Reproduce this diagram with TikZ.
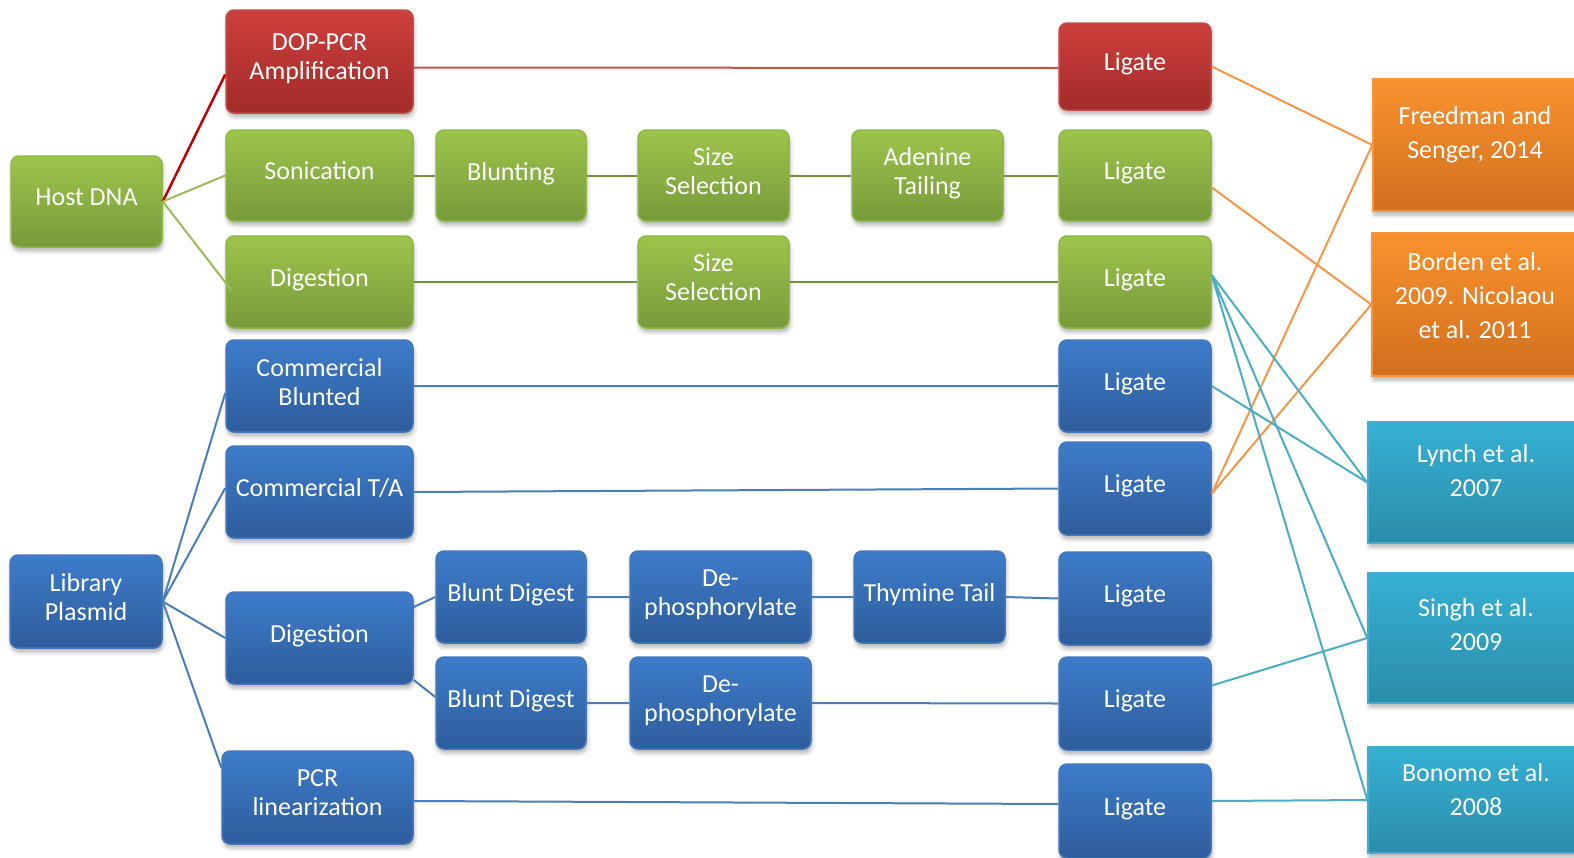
\documentclass[tikz,border=0pt]{standalone}
\usepackage{fontspec}
\setmainfont{Carlito}
\usetikzlibrary{shadows.blur}
\definecolor{rT}{HTML}{CD3F3C}\definecolor{rB}{HTML}{A12B29}\definecolor{rE}{HTML}{C24A47}
\definecolor{gT}{HTML}{9DC44B}\definecolor{gB}{HTML}{779A3B}\definecolor{gE}{HTML}{8DB846}
\definecolor{bT}{HTML}{3D7CCA}\definecolor{bB}{HTML}{2E5C9B}\definecolor{bE}{HTML}{4477BB}
\definecolor{oT}{HTML}{F8922E}\definecolor{oB}{HTML}{D26F1E}\definecolor{oE}{HTML}{F5953F}
\definecolor{tT}{HTML}{36B0D5}\definecolor{tB}{HTML}{2B8DA8}\definecolor{tE}{HTML}{45ADD0}
\definecolor{hostred}{HTML}{C00000}
\definecolor{redl}{HTML}{C9504D}
\definecolor{lgreen}{HTML}{9BBB59}
\definecolor{dgreen}{HTML}{71923A}
\definecolor{bluel}{HTML}{4A7EBB}
\definecolor{orangel}{HTML}{F79646}
\definecolor{teall}{HTML}{4BACC6}
\tikzset{
  base/.style={line width=1.5pt, text=white, align=center, inner sep=2pt,
    font=\fontsize{26}{29}\selectfont,
    execute at end node={\rule[-9pt]{0pt}{9pt}},
    blur shadow={shadow xshift=1pt, shadow yshift=-4pt, shadow blur radius=4pt, shadow opacity=30}},
  rbox/.style={base, rounded corners=8pt, top color=rT, bottom color=rB, draw=rE},
  gbox/.style={base, rounded corners=8pt, top color=gT, bottom color=gB, draw=gE},
  bbox/.style={base, rounded corners=8pt, top color=bT, bottom color=bB, draw=bE},
  obox/.style={base, top color=oT, bottom color=oB, draw=oE},
  tbox/.style={base, top color=tT, bottom color=tB, draw=tE},
  reftext/.style={text=white, align=center, font=\fontsize{26}{34}\selectfont},
  ln/.style={line width=2pt},
}
\begin{document}
\begin{tikzpicture}[x=1pt,y=-1pt]
\useasboundingbox (0,0) rectangle (1574,857);
\clip (0,0) rectangle (1574,857);
% red
\node[rbox, minimum width=187, minimum height=103] (dop) at (319.5,61.5) {DOP-PCR\\Amplification};
\node[rbox, minimum width=152, minimum height=87] (lig1) at (1135,66.5) {Ligate};
% green
\node[gbox, minimum width=151, minimum height=91] (host) at (86.5,201.5) {Host DNA};
\node[gbox, minimum width=187, minimum height=91] (son) at (319.5,175.5) {Sonication};
\node[gbox, minimum width=187, minimum height=92] (dig1) at (319.5,282) {Digestion};
\node[gbox, minimum width=150, minimum height=91] (blunting) at (511,175.5) {Blunting};
\node[gbox, minimum width=151, minimum height=91] (size1) at (713.5,175.5) {Size\\Selection};
\node[gbox, minimum width=151, minimum height=91] (aden) at (927.5,175.5) {Adenine\\Tailing};
\node[gbox, minimum width=151, minimum height=92] (size2) at (713.5,282) {Size\\Selection};
\node[gbox, minimum width=152, minimum height=91] (lig2) at (1135,175.5) {Ligate};
\node[gbox, minimum width=152, minimum height=92] (lig3) at (1135,282) {Ligate};
% blue
\node[bbox, minimum width=152, minimum height=93] (lib) at (86,601.5) {Library\\Plasmid};
\node[bbox, minimum width=187, minimum height=92] (cblunt) at (319.5,386) {Commercial\\Blunted};
\node[bbox, minimum width=187, minimum height=92] (cta) at (319.5,492) {Commercial T/A};
\node[bbox, minimum width=187, minimum height=92] (dig2) at (319.5,638) {Digestion};
\node[bbox, minimum width=191, minimum height=93] (pcr) at (317.5,797.5) {PCR\\linearization};
\node[bbox, minimum width=150, minimum height=92] (bd1) at (511,597) {Blunt Digest};
\node[bbox, minimum width=150, minimum height=92] (bd2) at (511,703) {Blunt Digest};
\node[bbox, minimum width=181, minimum height=92] (dp1) at (720.5,597) {De-\\phosphorylate};
\node[bbox, minimum width=181, minimum height=92] (dp2) at (720.5,703) {De-\\phosphorylate};
\node[bbox, minimum width=151, minimum height=92] (thy) at (929.5,597) {Thymine Tail};
\node[bbox, minimum width=152, minimum height=92] (lig4) at (1135,386) {Ligate};
\node[bbox, minimum width=152, minimum height=93] (lig5) at (1135,488.5) {Ligate};
\node[bbox, minimum width=152, minimum height=93] (lig6) at (1135,598.5) {Ligate};
\node[bbox, minimum width=152, minimum height=93] (lig7) at (1135,703.5) {Ligate};
\node[bbox, minimum width=152, minimum height=94] (lig8) at (1135,811) {Ligate};
% references
\node[obox, minimum width=204, minimum height=132] (freed) at (1475,145) {};
\node[reftext] at ([yshift=10]freed.center) {Freedman and\\Senger, 2014};
\node[obox, minimum width=206, minimum height=143] (borden) at (1475,304.5) {};
\node[reftext] at ([yshift=9]borden.center) {Borden et al.\\2009. Nicolaou\\et al. 2011};
\node[tbox, minimum width=216, minimum height=121] (lynch) at (1476,482.5) {};
\node[reftext] at ([yshift=12]lynch.center) {Lynch et al.\\2007};
\node[tbox, minimum width=216, minimum height=130] (singh) at (1476,638) {};
\node[reftext] at ([yshift=13]singh.center) {Singh et al.\\2009};
\node[tbox, minimum width=216, minimum height=106] (bonomo) at (1476,800) {};
\node[reftext] at ([yshift=10]bonomo.center) {Bonomo et al.\\2008};
% connectors
\draw[ln, hostred, line width=2.5pt] (host.east) -- ([yshift=-13]dop.west);
\draw[ln, lgreen] (host.east) -- (son.west) (host.east) -- ([xshift=6,yshift=-8]dig1.west);
\draw[ln, redl] ([yshift=-6]dop.east) -- ([yshift=-1.5]lig1.west);
\draw[ln, dgreen] (son.east) -- (blunting.west) (blunting.east) -- (size1.west)
  (size1.east) -- (aden.west) (aden.east) -- (lig2.west)
  (dig1.east) -- (size2.west) (size2.east) -- (lig3.west);
\draw[ln, bluel] (cblunt.east) -- (lig4.west) (cta.east) -- (lig5.west)
  (bd1.east) -- (dp1.west) (dp1.east) -- (thy.west) (thy.east) -- (lig6.west)
  (bd2.east) -- (dp2.west) (dp2.east) -- (lig7.west)
  ([yshift=-3.5]pcr.east) -- ([yshift=7]lig8.west);
\draw[ln, bluel] (lib.east) -- ([yshift=-7]cblunt.west) (lib.east) -- ([yshift=4]cta.west)
  (lib.east) -- (dig2.west) (lib.east) -- ([yshift=30]pcr.west)
  ([yshift=31]dig2.east) -- (bd1.west) ([yshift=-42]dig2.east) -- ([yshift=6]bd2.west);
\draw[ln, orangel] (lig1.east) -- (freed.west) ([yshift=-12]lig2.east) -- (borden.west)
  ([yshift=-5]lig5.east) -- (freed.west) ([yshift=-5]lig5.east) -- (borden.west);
\draw[ln, teall] ([yshift=7]lig3.east) -- (lynch.west) ([yshift=7]lig3.east) -- (singh.west)
  ([yshift=7]lig3.east) -- (bonomo.west) (lig4.east) -- (lynch.west)
  ([yshift=18]lig7.east) -- (singh.west) ([yshift=10]lig8.east) -- (bonomo.west);
\end{tikzpicture}
\end{document}
